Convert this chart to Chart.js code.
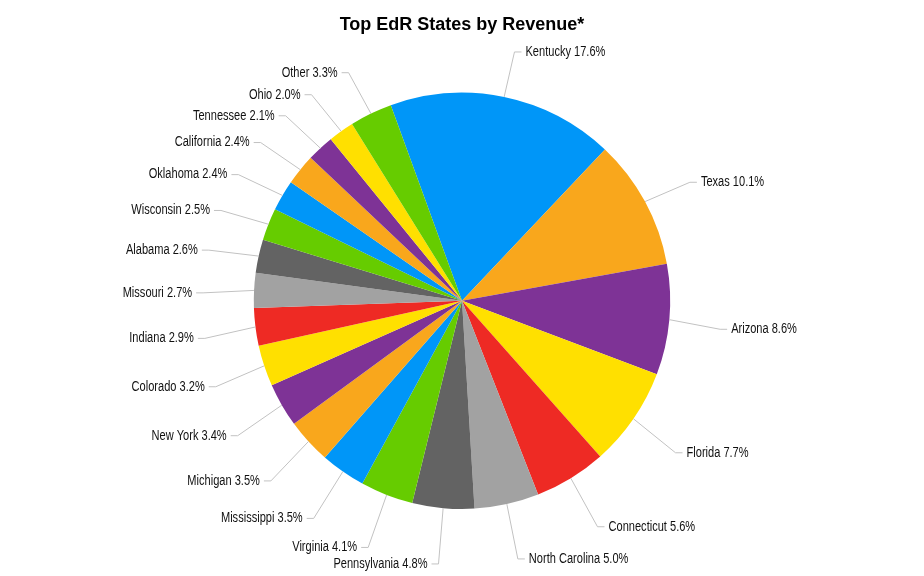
<!DOCTYPE html>
<html>
<head>
<meta charset="utf-8">
<script src="https://cdn.jsdelivr.net/npm/chart.js@4.4.1/dist/chart.umd.min.js"></script>
<style>
html,body{margin:0;padding:0;background:#fff;}
#wrap{width:924px;height:576px;position:relative;}
</style>
</head>
<body>
<div id="wrap"><canvas id="c" width="924" height="576"></canvas></div>
<script>
const categories = ["Kentucky","Texas","Arizona","Florida","Connecticut","North Carolina","Pennsylvania","Virginia","Mississippi","Michigan","New York","Colorado","Indiana","Missouri","Alabama","Wisconsin","Oklahoma","California","Tennessee","Ohio","Other"];
const shares = [17.6,10.1,8.6,7.7,5.6,5.0,4.8,4.1,3.5,3.5,3.4,3.2,2.9,2.7,2.6,2.5,2.4,2.4,2.1,2.0,3.3];
const palette = ["#0096F8","#F9A71C","#7E3396","#FFE000","#EE2A24","#A2A2A2","#636363","#66CC00"];
const otherColor = "#66CC00";
const sliceColors = categories.map((name, i) => name === "Other" ? otherColor : palette[i % palette.length]);

const labelFont = '14px "Liberation Sans", Arial, sans-serif';
const narrow = 0.79;

const leaderLabels = {
  id: 'leaderLabels',
  afterDatasetsDraw(chart) {
    const ctx = chart.ctx;
    const meta = chart.getDatasetMeta(0);
    ctx.save();
    meta.data.forEach((arc, i) => {
      const p = arc.getProps(['x','y','startAngle','endAngle','outerRadius'], true);
      const mid = (p.startAngle + p.endAngle) / 2;
      const c = Math.cos(mid), s = Math.sin(mid);
      const r = p.outerRadius;
      const ex = p.x + c * r, ey = p.y + s * r;
      const R = r * 1.245;
      const kx = p.x + c * R, ky = p.y + 5 + s * R;
      const right = c >= 0;
      const hx = kx + (right ? 7 : -7);
      ctx.strokeStyle = '#C2C2C2';
      ctx.lineWidth = 1;
      ctx.beginPath();
      ctx.moveTo(ex, ey);
      ctx.lineTo(kx, ky);
      ctx.lineTo(hx, ky);
      ctx.stroke();
      const txt = categories[i] + ' ' + shares[i].toFixed(1) + '%';
      const tx = hx + (right ? 4 : -4);
      ctx.save();
      ctx.translate(tx, ky);
      ctx.scale(narrow, 1);
      ctx.font = labelFont;
      ctx.fillStyle = '#111';
      ctx.textBaseline = 'middle';
      ctx.textAlign = right ? 'left' : 'right';
      ctx.fillText(txt, 0, 0);
      ctx.restore();
    });
    ctx.restore();
  }
};

new Chart(document.getElementById('c'), {
  type: 'pie',
  data: {
    labels: categories,
    datasets: [{
      data: shares,
      backgroundColor: sliceColors,
      borderWidth: 0
    }]
  },
  options: {
    responsive: false,
    animation: false,
    rotation: -20,
    layout: { padding: { top: 0, bottom: 67, left: 100, right: 100 } },
    plugins: {
      legend: { display: false },
      tooltip: { enabled: false },
      title: {
        display: true,
        text: 'Top EdR States by Revenue*',
        color: '#000',
        font: { family: '"Liberation Sans", Arial, sans-serif', size: 18, weight: 'bold', lineHeight: 1.2 },
        padding: { top: 14, bottom: 57 }
      }
    }
  },
  plugins: [leaderLabels]
});
</script>
</body>
</html>
